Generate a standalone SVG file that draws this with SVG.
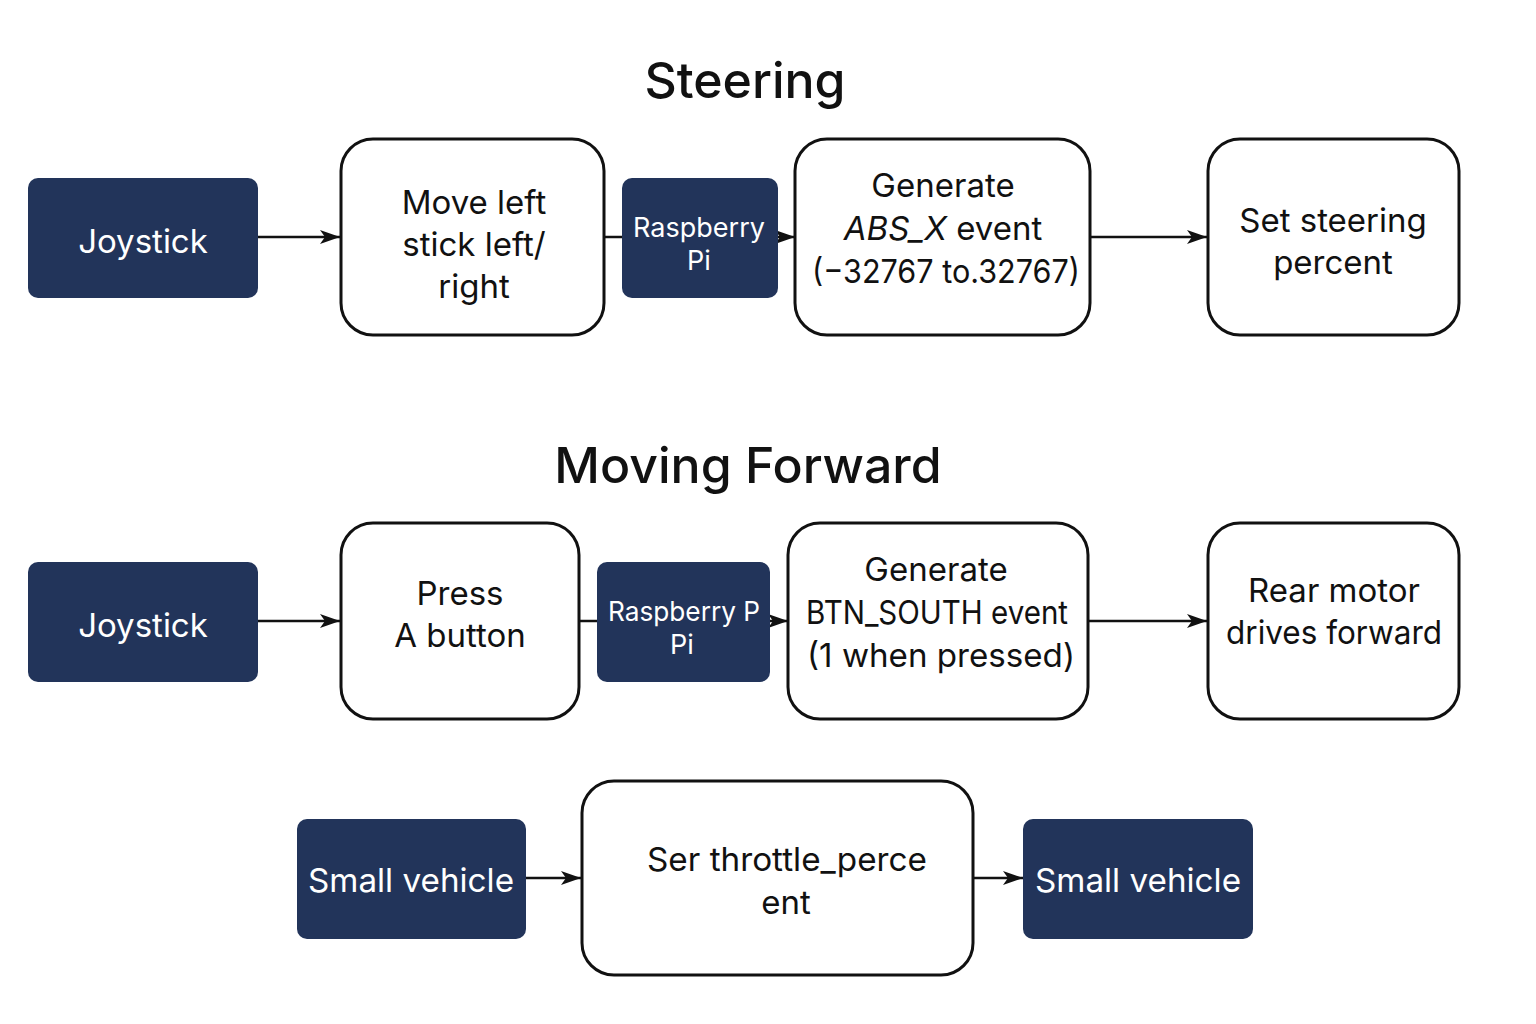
<svg xmlns="http://www.w3.org/2000/svg" width="1536" height="1024" viewBox="0 0 1536 1024">
<defs>
<style>
.dark{fill:#22345a;}
.box{fill:#ffffff;stroke:#111111;stroke-width:3;}
.wt{fill:#ffffff;font-family:Inter,"Liberation Sans",sans-serif;font-size:33px;text-anchor:middle;}
.wts{fill:#ffffff;font-family:Inter,"Liberation Sans",sans-serif;font-size:27px;text-anchor:middle;}
.bt{fill:#111111;font-family:Inter,"Liberation Sans",sans-serif;font-size:33px;text-anchor:middle;}
.title{fill:#111111;font-family:Inter,"Liberation Sans",sans-serif;font-size:50px;text-anchor:middle;font-weight:500;}
.conn{stroke:#111111;stroke-width:2.5;fill:none;}
</style>
<marker id="arr" markerWidth="20" markerHeight="16" refX="20" refY="8" orient="auto" markerUnits="userSpaceOnUse" viewBox="0 0 20 16">
<path d="M0,1 L20,8 L0,15 L5,8 Z" fill="#111111"/>
</marker>
</defs>
<rect width="1536" height="1024" fill="#ffffff"/>

<text class="title" x="745" y="98">Steering</text>
<text class="title" x="748" y="483">Moving Forward</text>

<g id="connectors">
<line class="conn" x1="258" y1="237" x2="340" y2="237" marker-end="url(#arr)"/>
<line class="conn" x1="604" y1="237" x2="622" y2="237"/>
<line class="conn" x1="778" y1="237" x2="795" y2="237" marker-end="url(#arr)"/>
<line class="conn" x1="1090" y1="237" x2="1207" y2="237" marker-end="url(#arr)"/>
<line class="conn" x1="258" y1="621" x2="340" y2="621" marker-end="url(#arr)"/>
<line class="conn" x1="579" y1="621" x2="597" y2="621"/>
<line class="conn" x1="770" y1="621" x2="788" y2="621" marker-end="url(#arr)"/>
<line class="conn" x1="1088" y1="621" x2="1207" y2="621" marker-end="url(#arr)"/>
<line class="conn" x1="526" y1="878" x2="581" y2="878" marker-end="url(#arr)"/>
<line class="conn" x1="973" y1="878" x2="1023" y2="878" marker-end="url(#arr)"/>
</g>

<g id="joystick1">
<rect class="dark" x="28" y="178" width="230" height="120" rx="10"/>
<text class="wt" x="143" y="253">Joystick</text>
</g>
<g id="move-left">
<rect class="box" x="341" y="139" width="263" height="196" rx="32"/>
<text class="bt" x="474" y="214">Move left</text>
<text class="bt" x="474" y="256">stick left/</text>
<text class="bt" x="474" y="298">right</text>
</g>
<g id="rpi1">
<rect class="dark" x="622" y="178" width="156" height="120" rx="10"/>
<text class="wts" x="699" y="237">Raspberry</text>
<text class="wts" x="699" y="270">Pi</text>
</g>
<g id="gen-absx">
<rect class="box" x="795" y="139" width="295" height="196" rx="32"/>
<text class="bt" x="943" y="197">Generate</text>
<text class="bt" x="943" y="240"><tspan font-style="italic">ABS_X</tspan> event</text>
<text class="bt" x="946" y="283" textLength="268" lengthAdjust="spacingAndGlyphs">(−32767 to.32767)</text>
</g>
<g id="set-steering">
<rect class="box" x="1208" y="139" width="251" height="196" rx="32"/>
<text class="bt" x="1333" y="232">Set steering</text>
<text class="bt" x="1333" y="274">percent</text>
</g>

<g id="joystick2">
<rect class="dark" x="28" y="562" width="230" height="120" rx="10"/>
<text class="wt" x="143" y="637">Joystick</text>
</g>
<g id="press-a">
<rect class="box" x="341" y="523" width="238" height="196" rx="32"/>
<text class="bt" x="460" y="605">Press</text>
<text class="bt" x="460" y="647">A button</text>
</g>
<g id="rpi2">
<rect class="dark" x="597" y="562" width="173" height="120" rx="10"/>
<text class="wts" x="684" y="621" textLength="152" lengthAdjust="spacingAndGlyphs">Raspberry P</text>
<text class="wts" x="682" y="654">Pi</text>
</g>
<g id="gen-btn">
<rect class="box" x="788" y="523" width="300" height="196" rx="32"/>
<text class="bt" x="936" y="581">Generate</text>
<text class="bt" x="937" y="624" textLength="262" lengthAdjust="spacingAndGlyphs">BTN_SOUTH event</text>
<text class="bt" x="941" y="667" textLength="268" lengthAdjust="spacingAndGlyphs">(1 when pressed)</text>
</g>
<g id="rear-motor">
<rect class="box" x="1208" y="523" width="251" height="196" rx="32"/>
<text class="bt" x="1334" y="602">Rear motor</text>
<text class="bt" x="1334" y="644" textLength="216" lengthAdjust="spacingAndGlyphs">drives forward</text>
</g>

<g id="small-vehicle1">
<rect class="dark" x="297" y="819" width="229" height="120" rx="10"/>
<text class="wt" x="411" y="892" textLength="206" lengthAdjust="spacingAndGlyphs">Small vehicle</text>
</g>
<g id="set-throttle">
<rect class="box" x="582" y="781" width="391" height="194" rx="32"/>
<text class="bt" x="787" y="871" textLength="280" lengthAdjust="spacingAndGlyphs">Ser throttle_perce</text>
<text class="bt" x="786" y="914">ent</text>
</g>
<g id="small-vehicle2">
<rect class="dark" x="1023" y="819" width="230" height="120" rx="10"/>
<text class="wt" x="1138" y="892" textLength="206" lengthAdjust="spacingAndGlyphs">Small vehicle</text>
</g>
</svg>
